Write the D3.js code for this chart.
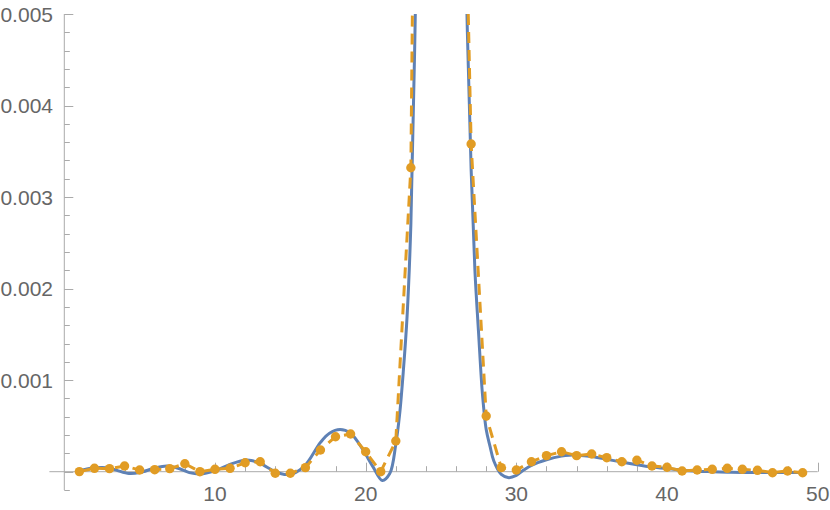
<!DOCTYPE html>
<html>
<head>
  <script src="https://d3js.org/d3.v7.min.js"></script>
  <style>
    body { margin: 0; background: #fff; }
    text { font-family: "Liberation Sans", Arial, sans-serif; font-size: 21px; fill: #666; }
  </style>
</head>
<body>
  <svg id="chart"></svg>

  <script>
    // Data points (orange, dashed)
    const dotX = [1, 2, 3, 4, 5, 6, 7, 8, 9, 10, 11, 12, 13, 14, 15, 16, 17, 18, 19, 20,
                  21, 22, 23, 24, 25, 26, 27, 28, 29, 30, 31, 32, 33, 34, 35, 36, 37, 38, 39, 40,
                  41, 42, 43, 44, 45, 46, 47, 48, 49];
    const dotY = [0.000001, 0.000037, 0.000033, 0.000062, 0.000019, 0.000022, 0.000033, 0.000087, 0.0, 0.000026,
                  0.000037, 0.000098, 0.000109, -0.000017, -0.000017, 0.000044, 0.000237, 0.000382, 0.000412, 0.000218,
                  0.0, 0.000335, 0.00332, 0.02, 0.03, 0.011, 0.00358, 0.000608, 0.000044, 0.000019,
                  0.000109, 0.000175, 0.000218, 0.000175, 0.000193, 0.000153, 0.000109, 0.000125, 0.000062, 0.000048,
                  0.000008, 0.000019, 0.000026, 0.000037, 0.000026, 0.000015, -0.000011, 0.000008, -0.000011];

    // Fitted curve (blue, solid)
    const curveX = [1, 1.5, 2, 2.5, 3, 3.5, 4.3, 5, 6, 6.8, 7.5, 8.3, 9, 10, 11, 12, 12.5, 13, 14, 14.6,
                    15.2, 16, 17, 17.6, 18.3, 19, 19.5, 20, 20.5, 21.1, 21.6, 22, 22.25, 22.5, 22.75, 23, 23.25, 23.5, 24, 25,
                    26, 26.5, 26.75, 27, 27.25, 27.5, 27.75, 28, 28.25, 28.5, 29, 29.5, 30, 30.5, 31, 32, 33, 33.5, 34, 35,
                    36, 37, 38, 39, 40, 41, 42, 43, 44, 45, 46, 47, 48, 49];
    const curveY = [0.00001, 0.00003, 0.000042, 0.000047, 0.00004, 0.000015, -0.00002, -0.00001, 0.00004, 0.000062,
                    0.00004, -0.00001, -0.000025, 0.00001, 0.00008, 0.000128, 0.00012, 0.00009, 0.0, -0.00003,
                    -0.00002, 0.000073, 0.00032, 0.00042, 0.00046, 0.00042, 0.00032, 0.00019, 0.00005, -0.000095,
                    -0.00002, 0.0003, 0.00062, 0.0011, 0.0017, 0.0027, 0.0046, 0.0072, 0.015, 0.022,
                    0.015, 0.0072, 0.0048, 0.0033, 0.0022, 0.0015, 0.00085, 0.00046, 0.00028, 0.00012,
                    -0.00003, -0.000065, -0.00004, 0.00002, 0.00007, 0.00013, 0.00017, 0.00018, 0.00018, 0.000165,
                    0.000135, 0.000105, 0.000075, 0.00005, 0.000035, 0.000015, 0.000005, 0.0, -0.000005, -0.000008,
                    -0.00001, -0.00001, -0.00001, -0.00001];

    const yTickLabels = ["0.001", "0.002", "0.003", "0.004", "0.005"];
    const xTickLabels = ["10", "20", "30", "40", "50"];

    const width = 830, height = 510;
    const svg = d3.select("#chart").attr("width", width).attr("height", height);

    const x = d3.scaleLinear().domain([0, 50]).range([64.3, 817.7]);
    const y = d3.scaleLinear().domain([-0.0002, 0.005]).range([490, 14]);

    const axisColor = "#aaa";

    // clip the curves to the plot area
    svg.append("clipPath").attr("id", "clip")
       .append("rect")
       .attr("x", 0).attr("y", y(0.005))
       .attr("width", width).attr("height", height - y(0.005));

    // x axis line
    svg.append("line")
       .attr("x1", x(-0.99)).attr("x2", x(50))
       .attr("y1", y(0)).attr("y2", y(0))
       .attr("stroke", axisColor).attr("stroke-width", 1);

    // y axis line
    svg.append("line")
       .attr("x1", x(0)).attr("x2", x(0))
       .attr("y1", y(-0.0002)).attr("y2", y(0.005))
       .attr("stroke", axisColor).attr("stroke-width", 1);

    // y ticks
    const yTicks = d3.range(-2, 51).map(i => i * 0.0001).filter((d, i) => i % 2 === 0);
    svg.selectAll(".ytick")
       .data(yTicks)
       .enter()
       .append("line")
       .attr("x1", x(0))
       .attr("x2", d => x(0) + (Math.abs(d / 0.001 - Math.round(d / 0.001)) < 1e-6 ? 9 : 5.5))
       .attr("y1", d => Math.round(y(d)) + 0.5)
       .attr("y2", d => Math.round(y(d)) + 0.5)
       .attr("stroke", axisColor);

    svg.selectAll(".ylabel")
       .data(yTickLabels)
       .enter()
       .append("text")
       .text(d => d)
       .attr("x", 53)
       .attr("y", d => y(+d) + 7.5)
       .attr("text-anchor", "end");

    // x ticks
    const xTicks = d3.range(2, 51, 2);
    svg.selectAll(".xtick")
       .data(xTicks)
       .enter()
       .append("line")
       .attr("x1", d => Math.round(x(d)) + 0.5)
       .attr("x2", d => Math.round(x(d)) + 0.5)
       .attr("y1", y(0))
       .attr("y2", d => y(0) - (d % 10 === 0 ? 9 : 5.5))
       .attr("stroke", axisColor);

    svg.selectAll(".xlabel")
       .data(xTickLabels)
       .enter()
       .append("text")
       .text(d => d)
       .attr("x", d => x(+d))
       .attr("y", 501)
       .attr("text-anchor", "middle");

    const plot = svg.append("g").attr("clip-path", "url(#clip)");

    // blue curve
    const curvePts = curveX.map((d, i) => [d, curveY[i]]);
    plot.append("path")
        .datum(curvePts)
        .attr("fill", "none")
        .attr("stroke", "#5E81B5")
        .attr("stroke-width", 3)
        .attr("d", d3.line().x(d => x(d[0])).y(d => y(d[1])).curve(d3.curveCatmullRom.alpha(0.5)));

    // orange dashed line with dots
    const dotPts = dotX.map((d, i) => [d, dotY[i]]);
    plot.append("path")
        .datum(dotPts)
        .attr("fill", "none")
        .attr("stroke", "#E19C24")
        .attr("stroke-width", 3)
        .attr("stroke-dasharray", "11,7")
        .attr("d", d3.line().x(d => x(d[0])).y(d => y(d[1])));

    plot.selectAll("circle")
        .data(dotPts)
        .enter()
        .append("circle")
        .attr("cx", d => x(d[0]))
        .attr("cy", d => y(d[1]))
        .attr("r", 4.7)
        .attr("fill", "#E19C24");
  </script>
</body>
</html>
